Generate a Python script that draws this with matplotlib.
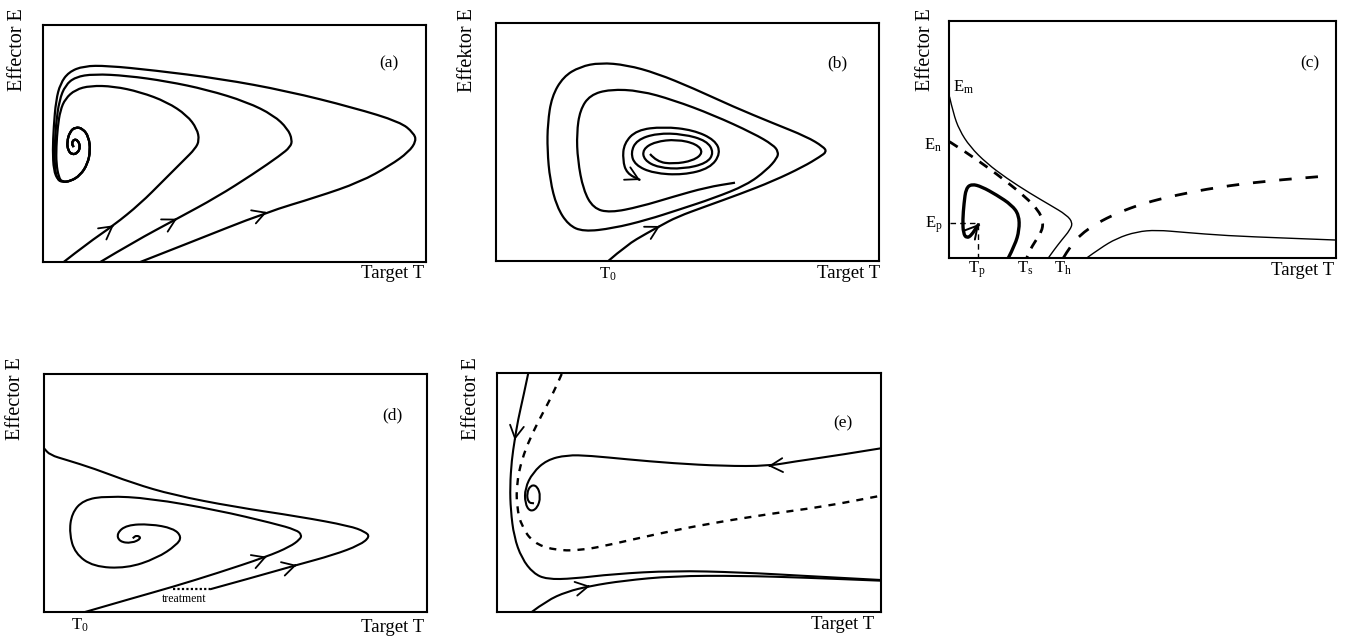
import numpy as np
import matplotlib.pyplot as plt
from matplotlib.path import Path
from matplotlib.patches import PathPatch

plt.rcParams['font.family'] = ['Liberation Serif', 'DejaVu Serif']
plt.rcParams['mathtext.fontset'] = 'stix'

W, H = 1349, 642

# ---- panel (a): three trajectories winding into the same spiral ----
A1_T = [20.7, 44, 70.7, 97.3, 120.7, 140.7, 152.3, 156.3, 154, 144, 124, 97.3,
        70.7, 47.3, 32.3, 22.3, 17.3, 14.7, 13.3, 13.3, 15.7]
A1_E = [0, 18.3, 36.7, 58.3, 81.7, 101.7, 113.3, 121.7, 133.3, 146.7, 160, 170,
        175.7, 176.3, 172.3, 163.3, 151.7, 135, 115, 98.3, 85]
A2_T = [57.3, 90.7, 134, 174, 210.7, 237.3, 247.3, 249.3, 244.7, 230.7, 204, 164,
        124, 84, 50.7, 32.3, 22.3, 16.3, 13, 11.7, 11.7, 14]
A2_E = [0, 20, 43.3, 65, 88.3, 106.7, 115, 122, 133.3, 146.7, 160, 172.3,
        180.7, 186.3, 188, 185, 176.7, 161.7, 138.3, 115, 95, 83.3]
A3_T = [97.3, 144, 224, 274, 317.3, 347.3, 365.7, 373.3, 370.7, 357.3, 310.7, 244,
        177.3, 110.7, 64, 40.7, 25.7, 17.3, 13, 10.7, 9.7, 10.7, 14.7]
A3_E = [0, 18.3, 50, 65, 80, 96.7, 110, 121, 129, 140, 154.3, 171,
        183.3, 191.7, 196.3, 196, 190, 178.3, 161.7, 135, 111.7, 91.7, 82.3]
A_SPIRAL_T = [19, 27.3, 37.3, 44.7, 47.3, 45.7, 40, 32.3, 26.7, 24, 25, 29,
              34.7, 37.3, 35, 30.7, 28.7, 30.7]
A_SPIRAL_E = [80, 80.7, 86.7, 98.3, 111.7, 125, 133.3, 135, 130, 120, 111.7, 107.3,
              109, 115, 121.7, 122.7, 118.3, 115]
A_ARROWS = [2, 2, 2]

# ---- panel (b): trajectory from T0 spiralling in, plus the inner spiral ----
B_MAIN_T = [112.3, 130.7, 150.7, 164, 180.7, 210.7, 244, 277.3, 307.3, 324, 330.7,
            327.3, 310.7, 277.3, 237.3, 197.3, 160.7, 130.7, 104, 84, 67.3, 55.7,
            51.7, 51.3, 54, 60.7, 72.3, 87.3, 117, 150.7, 184, 217.3, 250.7, 270.7,
            281.3, 282.3, 277.3, 257.3, 217.3, 177.3, 144, 114, 94, 84, 80.7, 81.7,
            87.3, 97.3, 114, 144, 177.3, 210.7, 239]
B_MAIN_E = [0, 16, 27.7, 35, 44, 55, 67, 80, 94.3, 104.3, 109.3,
            114.3, 124.3, 137.7, 154.3, 172.7, 187.7, 196, 198.3, 194.3, 184.3, 164.3,
            137.7, 111, 81, 54.3, 36, 29.3, 32.7, 41, 51.7, 62.7, 76, 91,
            103, 109.3, 116, 127.7, 146, 161, 170.3, 171.7, 166, 151, 127.7, 101,
            71, 52.7, 48.3, 54.3, 64.3, 73.7, 78.3]
B_SPIRAL_T = [154, 160.7, 177.3, 197.3, 207.3, 200.7, 180.7, 159, 146.7, 148, 162.3,
              187.3, 210.7, 218, 210.7, 187.3, 160.7, 140.7, 134.7, 139, 157.3, 187.3,
              214, 224.7, 219, 197.3, 167.3, 140.7, 128, 126.7, 130.7, 144]
B_SPIRAL_E = [107, 99.3, 97, 100.3, 108.3, 117, 121.7, 119.3, 111.7, 101, 93.3,
              92, 97.7, 108.3, 120.3, 127, 127.7, 121, 108.3, 96, 87.7, 86,
              92.7, 107.7, 121, 131, 134.3, 131, 117.7, 101, 87.7, 81]
B_ARROW = 3

# ---- panel (c): separatrices, nullcline-like dashed curves ----
C_SEP_T = [0.5, 4.3, 10.3, 21, 37.7, 57.7, 81, 101, 117.7, 123.7, 121, 112.7, 105, 99.3]
C_SEP_E = [161.3, 144.7, 128, 111.3, 94.7, 79.7, 64.7, 53, 43, 35.3, 28, 18, 8, 0]
C_DASH1_T = [0.5, 17.7, 37.7, 57.7, 76, 89.3, 94.3, 92.7, 86, 81, 77.7]
C_DASH1_E = [116.3, 105.3, 91.3, 76.3, 61.3, 48, 36.3, 26.3, 16.3, 8, 0]
C_LOOP_T = [59.3, 66, 70.3, 70, 62.7, 47.7, 32.7, 22.7, 17, 15, 13.7, 14.3, 17.7,
            22.7, 27.7, 30]
C_LOOP_E = [0, 13, 28, 43, 53, 63, 71.3, 74, 69.7, 54.7, 38, 24.7, 19.7, 23, 31.3, 34]
C_EP_T = [1, 29.3, 29.3]
C_EP_E = [35.3, 35.3, 0]
C_DASH2_T = [114.3, 121, 131, 147.7, 167.7, 194.3, 227.7, 267.7, 317.7, 377.7]
C_DASH2_E = [0, 11.3, 23, 34.7, 44.7, 54.7, 63, 70.7, 77, 82]
C_LOW_T = [137.7, 151, 167.7, 187.7, 207.7, 234.3, 277.7, 334.3, 386]
C_LOW_E = [0, 9.7, 19.7, 26.3, 28, 25.7, 22.3, 20, 18]

# ---- panel (d): treatment moves the state to another trajectory ----
D_TOP_T = [166, 206, 252.7, 289.3, 316, 326, 321, 306, 256, 189.3, 129.3, 89.3,
           49.3, 22.7, 6, 0]
D_TOP_E = [22.7, 33.7, 47, 57, 67, 75.3, 80.3, 86, 95.3, 105.3, 117, 128.7,
           143.7, 152, 157, 163.7]
D_MID_T = [41, 89.3, 129.3, 172.7, 222.7, 246, 256, 257.7, 252.7, 229.3, 172.7, 106,
           62.7, 39.3, 27.7, 25.3, 31, 49.3, 82.7, 112.7, 132.7, 137.7, 129.3, 106,
           82.7, 72.7, 75.3, 87.7, 97.7, 92.7, 88.7]
D_MID_E = [0, 14, 25.3, 38.7, 55.3, 65.3, 72.7, 77, 82, 88.7, 102, 113.7,
           116, 112, 98.7, 78.7, 58.7, 45.3, 43.7, 53.7, 67, 75.3, 83.7, 88,
           87, 78.7, 70.3, 68.7, 73.7, 77, 73.7]
D_TREAT_T = [129.3, 166]
D_TREAT_E = [22.7, 22.7]
D_ARROWS = [2, 4]

# ---- panel (e) ----
E_LEFT_T = [31.3, 26.3, 21, 17.7, 14.7, 13, 13.7, 17, 24.7, 36.3, 49.7, 76.3, 116.3,
            176.3, 243, 309.7, 359.7, 384]
E_LEFT_E = [239, 215.3, 192, 172, 152, 125.3, 102, 75.3, 53.7, 38.7, 32.7, 33.3, 38,
            41.3, 39.7, 36, 33.3, 32]
E_BOT_T = [34.7, 49.7, 69.7, 93, 126.3, 176.3, 243, 309.7, 384]
E_BOT_E = [0, 11.3, 20.3, 26, 31.3, 36, 36.3, 34.3, 31.3]
E_TOP_T = [384, 343, 296.3, 271.3, 226.3, 176.3, 129.7, 93, 69.7, 49.7, 35.7, 28, 28,
           33, 40.3, 43.7, 40.3, 33.7, 29.7, 31.3, 37]
E_TOP_E = [163.7, 157, 150.3, 146, 146, 148.7, 152.7, 156.3, 157, 152, 139.3, 123.7,
           108.7, 100.3, 103.7, 115.3, 126, 127, 118.7, 109.3, 108.7]
E_DASH_T = [64.7, 56.3, 44.7, 33, 24.7, 19.7, 19.7, 24.7, 36.3, 56.3, 83, 116.3,
            159.7, 209.7, 276.3, 326.3, 384]
E_DASH_E = [238, 218.7, 197, 173.7, 152, 128.7, 105.3, 85.3, 69.3, 62, 61.3, 68,
            78, 88, 98.7, 105.3, 116.3]
E_ARROWS = [3, 3, 3]


def smooth(xs, ys):
    pts = np.column_stack([xs, ys]).astype(float)
    verts = [pts[0]]
    codes = [Path.MOVETO]
    for i in range(1, len(pts) - 1):
        verts += [pts[i], (pts[i] + pts[i + 1]) / 2]
        codes += [Path.CURVE3, Path.CURVE3]
    verts.append(pts[-1])
    codes.append(Path.LINETO)
    return Path(verts, codes)


def curve(ax, xs, ys, lw=1.6, ls='-'):
    ax.add_patch(PathPatch(smooth(xs, ys), fill=False, lw=lw, ls=ls,
                           edgecolor='black', capstyle='butt',
                           joinstyle='round'))


def arrow(ax, xs, ys, i, lw=1.3):
    j0 = max(i - 1, 0)
    j1 = min(i + 1, len(xs) - 1)
    dx = xs[j1] - xs[j0]
    dy = ys[j1] - ys[j0]
    ax.annotate('', xy=(xs[i], ys[i]),
                xytext=(xs[i] - 0.02 * dx, ys[i] - 0.02 * dy),
                arrowprops=dict(arrowstyle='->,head_length=0.45,head_width=0.25',
                                lw=lw, shrinkA=0, shrinkB=0,
                                mutation_scale=20, color='black'))


def panel(box):
    x0, y0, x1, y1 = box
    ax = fig.add_axes([x0 / W, 1 - y1 / H, (x1 - x0) / W, (y1 - y0) / H])
    ax.set_xlim(0, x1 - x0)
    ax.set_ylim(0, y1 - y0)
    ax.set_xticks([])
    ax.set_yticks([])
    for s in ax.spines.values():
        s.set_linewidth(1.5)
    return ax


def ftext(x, y, s, **kw):
    fig.text(x / W, 1 - y / H, s, **kw)


fig = plt.figure(figsize=(W / 100, H / 100), dpi=100)

# (a)
ax = panel((43, 25, 426, 262))
for ts, es, k in zip([A1_T, A2_T, A3_T], [A1_E, A2_E, A3_E], A_ARROWS):
    curve(ax, ts + A_SPIRAL_T, es + A_SPIRAL_E)
    arrow(ax, ts, es, k)

# (b)
ax = panel((496, 23, 879, 261))
curve(ax, B_MAIN_T, B_MAIN_E)
arrow(ax, B_MAIN_T, B_MAIN_E, B_ARROW)
curve(ax, B_SPIRAL_T, B_SPIRAL_E)
arrow(ax, B_SPIRAL_T, B_SPIRAL_E, len(B_SPIRAL_T) - 1)

# (c)
ax = panel((949, 21, 1336, 258))
curve(ax, C_SEP_T, C_SEP_E, lw=1.0)
curve(ax, C_DASH1_T, C_DASH1_E, lw=2.0, ls=(0, (3.5, 3)))
curve(ax, C_LOOP_T, C_LOOP_E, lw=2.4)
arrow(ax, C_LOOP_T, C_LOOP_E, len(C_LOOP_T) - 1, lw=1.4)
ax.plot(C_EP_T, C_EP_E, color='black', lw=1.0, ls=(0, (4, 3)))
curve(ax, C_DASH2_T, C_DASH2_E, lw=2.0, ls=(0, (4.5, 5)))
curve(ax, C_LOW_T, C_LOW_E, lw=1.0)

# (d)
ax = panel((44, 374, 427, 612))
curve(ax, D_TOP_T, D_TOP_E, lw=1.5)
curve(ax, D_MID_T, D_MID_E, lw=1.5)
arrow(ax, D_TOP_T, D_TOP_E, D_ARROWS[0])
arrow(ax, D_MID_T, D_MID_E, D_ARROWS[1])
ax.plot(D_TREAT_T, D_TREAT_E, color='black', lw=1.6, ls=(0, (1, 1)))

# (e)
ax = panel((497, 373, 881, 612))
curve(ax, E_LEFT_T, E_LEFT_E, lw=1.5)
curve(ax, E_BOT_T, E_BOT_E, lw=1.5)
curve(ax, E_TOP_T, E_TOP_E, lw=1.5)
curve(ax, E_DASH_T, E_DASH_E, lw=1.7, ls=(0, (3, 3)))
arrow(ax, E_LEFT_T, E_LEFT_E, E_ARROWS[0])
arrow(ax, E_BOT_T, E_BOT_E, E_ARROWS[1])
arrow(ax, E_TOP_T, E_TOP_E, E_ARROWS[2])

# axis titles
lab = dict(fontsize=14.5, rotation=90, ha='center', va='top')
ftext(18, 8, 'Effector E', **lab)
ftext(467, 8, 'Effektor E', **lab)
ftext(925, 8, 'Effector E', **lab)
ftext(16, 357, 'Effector E', **lab)
ftext(472, 357, 'Effector E', **lab)

tgt = dict(fontsize=13.5, ha='right', va='top')
ftext(424, 265, 'Target T', **tgt)
ftext(880, 265, 'Target T', **tgt)
ftext(1334, 262, 'Target T', **tgt)
ftext(424, 619, 'Target T', **tgt)
ftext(874, 616, 'Target T', **tgt)

pl = dict(fontsize=12.5, ha='center', va='center')
ftext(389, 63, '(a)', **pl)
ftext(837, 63, '(b)', **pl)
ftext(1310, 63, '(c)', **pl)
ftext(392, 415, '(d)', **pl)
ftext(843, 423, '(e)', **pl)

sm = dict(fontsize=12, ha='center', va='center')
ftext(608, 274, r'T$_\mathregular{0}$', **sm)
ftext(80, 625, r'T$_\mathregular{0}$', **sm)
ftext(977, 270, r'T$_\mathregular{p}$', **sm)
ftext(1025, 268, r'T$_\mathregular{s}$', **sm)
ftext(1063, 268, r'T$_\mathregular{h}$', **sm)
ftext(953, 87, r'E$_\mathregular{m}$', fontsize=12, ha='left', va='center')
ftext(942, 145, r'E$_\mathregular{n}$', fontsize=12, ha='right', va='center')
ftext(943, 225, r'E$_\mathregular{p}$', fontsize=12, ha='right', va='center')
ftext(184, 599, 'treatment', fontsize=8.5, ha='center', va='center')

fig.savefig('out.png', dpi=100)
